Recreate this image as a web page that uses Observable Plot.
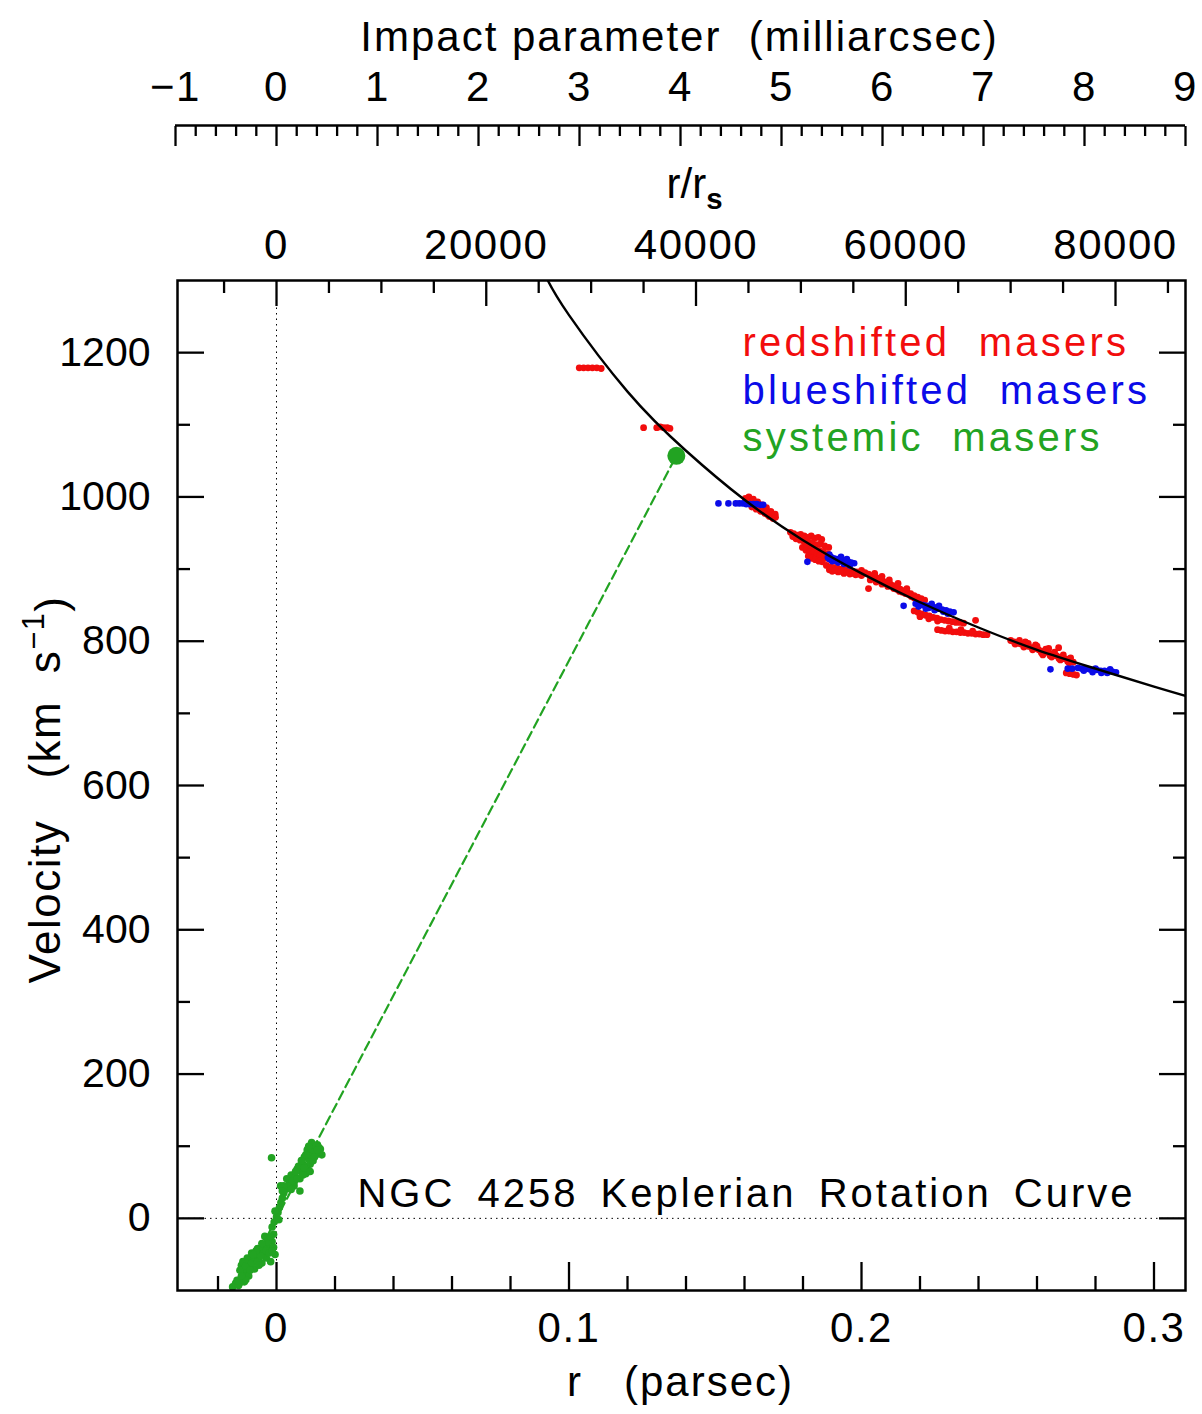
<!DOCTYPE html>
<html><head><meta charset="utf-8">
<script src="https://cdn.jsdelivr.net/npm/d3@7"></script>
<script src="https://cdn.jsdelivr.net/npm/@observablehq/plot@0.6"></script>
<style>body{margin:0;background:#fff}</style>
</head><body><div id="chart"></div>
<script>
// ---------- scales / conversions ----------
const xDomain = [-0.03385, 0.31077];   // r (parsec)
const yDomain = [-100, 1300];          // velocity (km/s)
const PC_PER_MAS = 0.03453;            // impact parameter conversion
const RS_PER_PC = 278900;              // r / r_s conversion

// ---------- ticks & labels ----------
const xMajor = [0, 0.1, 0.2, 0.3];
const xMajorLabels = ["0", "0.1", "0.2", "0.3"];
const xMinor = [-0.02, 0.02, 0.04, 0.06, 0.08, 0.12, 0.14, 0.16, 0.18, 0.22, 0.24, 0.26, 0.28];
const yMajor = [0, 200, 400, 600, 800, 1000, 1200];
const yMajorLabels = ["0", "200", "400", "600", "800", "1000", "1200"];
const yMinor = [100, 300, 500, 700, 900, 1100];
const rsMajor = [0, 20000, 40000, 60000, 80000];
const rsMajorLabels = ["0", "20000", "40000", "60000", "80000"];
const rsMinor = [-5000, 5000, 10000, 15000, 25000, 30000, 35000, 45000, 50000, 55000, 65000, 70000, 75000, 85000];
const masMajor = [-1, 0, 1, 2, 3, 4, 5, 6, 7, 8, 9];
const masMajorLabels = ["\u22121", "0", "1", "2", "3", "4", "5", "6", "7", "8", "9"];
const masMinor = d3.range(-1, 9.001, 0.2).filter(v => Math.abs(v - Math.round(v)) > 0.01);

// ---------- data ----------
const redMasers = [
  [0.1035,1179],[0.1050,1179],[0.1065,1179],[0.1080,1179],[0.1095,1179],[0.1110,1178],
  [0.1255,1096],[0.1300,1096],[0.1312,1097],[0.1324,1096],[0.1336,1096],[0.1345,1095],
  [0.1603,998],[0.1612,996],[0.1620,994],[0.1628,992],[0.1636,990],[0.1644,988],[0.1652,986],[0.1660,984],
  [0.1668,982],[0.1676,980],[0.1684,978],[0.1692,976],[0.1700,974],[0.1706,972],[0.1615,1000],[0.1630,997],
  [0.1645,993],[0.1625,986],[0.1640,983],[0.1655,980],[0.1670,977],[0.1685,973],[0.1698,970],
  [0.1608,993],[0.1622,990],[0.1638,987],[0.1652,983],[0.1666,979],[0.1680,975],[0.1694,972],[0.1660,989],
  [0.1675,985],[0.1690,980],[0.1705,976],
  [0.1757,951],[0.1768,949],[0.1780,947],[0.1792,948],[0.1804,946],[0.1816,944],[0.1828,946],[0.1840,943],
  [0.1852,944],[0.1864,941],[0.1776,942],[0.1790,940],[0.1804,938],[0.1818,936],[0.1832,937],[0.1846,934],
  [0.1860,935],[0.1874,932],[0.1888,930],
  [0.1765,945],[0.1785,943],[0.1800,942],[0.1815,940],[0.1828,930],[0.1840,928],[0.1855,926],[0.1870,924],
  [0.1885,921],[0.1798,930],[0.1812,931],[0.1826,928],
  [0.1810,926],[0.1822,924],[0.1834,922],[0.1846,921],[0.1858,919],[0.1870,917],[0.1882,915],[0.1894,913],
  [0.1906,911],[0.1818,918],[0.1830,915],[0.1842,913],[0.1854,911],[0.1866,910],
  [0.1880,905],[0.1893,903],[0.1906,902],[0.1919,901],[0.1932,900],[0.1945,899],[0.1958,898],[0.1971,897],
  [0.1984,896],[0.1997,895],[0.2010,894],[0.1900,897],[0.1920,896],[0.1940,894],[0.1960,893],[0.1980,892],[0.2000,891],
  [0.1890,899],[0.1910,898],[0.1930,897],[0.1950,896],[0.1970,894],[0.1990,893],
  [0.2000,898],[0.2012,895],[0.2024,893],[0.2036,891],[0.2048,889],[0.2060,887],[0.2072,884],[0.2084,882],
  [0.2096,880],[0.2108,877],[0.2120,875],[0.2132,872],[0.2144,870],[0.2156,868],[0.2168,866],[0.2180,863],
  [0.2192,861],[0.2204,859],[0.2216,857],[0.2030,885],[0.2050,882],[0.2070,879],[0.2090,876],[0.2110,873],
  [0.2130,869],[0.2150,866],[0.2170,862],[0.2190,858],[0.2210,854],[0.2024,873],
  [0.2040,887],[0.2060,884],[0.2080,880],[0.2100,878],[0.2120,872],[0.2140,868],[0.2160,865],[0.2180,860],
  [0.2200,857],[0.2045,894],[0.2070,890],[0.2095,885],[0.2125,880],[0.2155,873],
  [0.2180,842],[0.2193,840],[0.2206,838],[0.2219,836],[0.2232,835],[0.2245,833],[0.2258,832],[0.2271,830],
  [0.2284,829],[0.2297,828],[0.2310,827],[0.2323,826],[0.2336,826],[0.2349,825],[0.2200,834],[0.2230,831],
  [0.2260,828],[0.2390,829],
  [0.2260,816],[0.2273,815],[0.2286,814],[0.2299,814],[0.2312,813],[0.2325,813],[0.2338,812],[0.2351,812],
  [0.2364,811],[0.2377,811],[0.2390,810],[0.2403,810],[0.2416,809],[0.2429,809],[0.2300,818],[0.2340,816],[0.2380,814],
  [0.2510,801],[0.2522,799],[0.2534,797],[0.2546,796],[0.2558,794],[0.2570,793],[0.2582,791],[0.2594,790],
  [0.2606,788],[0.2618,786],[0.2630,785],[0.2642,783],[0.2654,781],[0.2666,780],[0.2678,778],[0.2690,776],
  [0.2702,775],[0.2714,773],[0.2724,771],[0.2540,801],[0.2570,797],[0.2600,793],[0.2630,789],[0.2660,785],
  [0.2690,781],[0.2715,777],[0.2620,781],[0.2650,778],[0.2680,774],[0.2710,770],[0.2674,791],
  [0.2525,796],[0.2555,792],[0.2585,788],[0.2615,784],[0.2645,780],[0.2675,776],[0.2705,772],[0.2560,799],
  [0.2595,795],[0.2640,790],
  [0.2700,756],[0.2712,755],[0.2725,754],[0.2735,753]
];
const blueMasers = [
  [0.1511,991],[0.1545,991],[0.1570,991],[0.1582,991],[0.1594,991],[0.1606,990],[0.1618,990],[0.1630,990],
  [0.1642,990],[0.1654,989],[0.1664,989],
  [0.1885,916],[0.1895,917],[0.1905,915],[0.1915,914],[0.1925,913],[0.1935,912],[0.1945,911],[0.1955,910],
  [0.1965,909],[0.1975,908],[0.1900,911],[0.1920,909],[0.1940,907],[0.1890,920],[0.1930,917],[0.1815,910],
  [0.1890,914],[0.1910,912],[0.1950,914],[0.1960,905],
  [0.2185,852],[0.2198,851],[0.2211,850],[0.2224,849],[0.2237,848],[0.2250,847],[0.2263,845],[0.2276,844],
  [0.2289,843],[0.2302,841],[0.2315,840],[0.2220,845],[0.2250,843],[0.2280,841],[0.2240,852],[0.2144,849],
  [0.2195,848],[0.2230,846],[0.2265,849],[0.2295,838],
  [0.2646,761],[0.2705,762],[0.2720,762],
  [0.2740,763],[0.2753,762],[0.2766,762],[0.2779,761],[0.2792,760],[0.2805,760],[0.2818,759],[0.2831,759],
  [0.2844,758],[0.2857,758],[0.2870,757],[0.2790,757],[0.2820,756],[0.2850,761],[0.2760,759],[0.2800,762],[0.2840,756]
];
const systemicMasers = [
  [-0.0150,-95],[-0.0140,-90],[-0.0130,-93],[-0.0125,-85],[-0.0115,-82],[-0.0105,-78],[-0.0095,-80],[-0.0135,-86],[-0.0110,-88],
  [-0.0120,-65],[-0.0110,-70],[-0.0100,-62],[-0.0090,-66],[-0.0080,-58],[-0.0075,-70],[-0.0070,-52],[-0.0060,-55],
  [-0.0055,-45],[-0.0045,-48],[-0.0040,-38],[-0.0030,-40],[-0.0025,-30],[-0.0015,-32],[-0.0010,-22],[-0.0005,-50],
  [-0.0020,-60],[-0.0035,-55],[-0.0065,-42],[-0.0085,-48],[-0.0100,-55],[-0.0050,-62],[-0.0010,-40],[-0.0040,-25],[-0.0125,-72],
  [-0.0115,-60],[-0.0105,-66],[-0.0095,-58],[-0.0085,-62],[-0.0075,-55],[-0.0065,-60],[-0.0055,-52],[-0.0045,-40],
  [-0.0035,-45],[-0.0025,-48],[-0.0030,-32],[-0.0020,-25],[-0.0015,-45],[-0.0060,-65],[-0.0090,-72],[-0.0070,-45],
  [-0.0050,-35],[-0.0080,-50],[-0.0105,-85],[-0.0120,-80],
  [-0.0015,-12],[-0.0008,-5],[0.0000,2],[0.0005,8],[0.0010,15],[0.0015,22],[0.0020,28],[-0.0005,10],[0.0008,-2],[0.0025,35],
  [0.0014,45],[0.0030,40],[0.0045,50],[0.0060,45],[0.0080,38],[0.0035,55],[0.0050,60],[0.0065,58],[0.0070,68],
  [0.0085,65],[0.0090,75],[0.0100,72],[0.0095,85],[0.0110,82],[0.0105,95],[0.0120,92],[0.0130,98],[0.0140,102],
  [0.0150,96],[0.0155,88],[0.0120,105],[0.0135,88],[0.0080,55],[0.0100,62],[0.0115,75],[0.0145,92],[0.0060,50],
  [0.0075,72],[0.0125,80],
  [0.0040,45],[0.0055,52],[0.0070,55],[0.0090,60],[0.0105,68],[0.0115,88],[0.0125,95],[0.0135,100],[0.0110,100],
  [0.0145,98],[0.0085,80],[0.0100,88],[0.0130,85],[0.0095,70],[0.0025,45],[0.0050,40],[0.0020,38],[0.0065,65],
  [0.0115,65],[0.0140,95],
  [-0.0017,84]
];
const systemicBig = [[0.1367, 1057]];
const systemicLineR = [-0.012, 0.1367];
const systemicLineV = [-93, 1057];
const keplerR = [0.0925, 0.10, 0.12, 0.14, 0.16, 0.18, 0.20, 0.22, 0.24, 0.26, 0.28, 0.30, 0.311];
const keplerV = [1302, 1252, 1146, 1064, 996, 940, 894, 854, 819, 788, 762, 737, 724];

const legendLabels = ["redshifted  masers", "blueshifted  masers", "systemic  masers"];
const RED = "#f20d0d", BLUE = "#0b0be8", GREEN = "#22a322";
const legendColors = [RED, BLUE, GREEN];

const TITLE_MAS = "Impact parameter  (milliarcsec)";
const TITLE_RS = "r/r";
const TITLE_PC = "r   (parsec)";
const TITLE_V = "Velocity   (km  s";
const TITLE_CHART = "NGC 4258 Keplerian Rotation Curve";

// ---------- derived tables ----------
const keplerCurve = keplerR.map((r, i) => ({r, v: keplerV[i]}));
const systemicLine = systemicLineR.map((r, i) => ({r, v: systemicLineV[i]}));
const rsToPc = v => v / RS_PER_PC;
const masToPc = v => v * PC_PER_MAS;
const lab = (ticks, labels) => d => labels[ticks.findIndex(t => Math.abs(t - d) < 1e-9)];

const TW = 2.3; // tick stroke width
const FS = 42;

const marks = [
  Plot.ruleX([0], {stroke: "black", strokeWidth: 1, strokeDasharray: "1.5,4"}),
  Plot.ruleY([0], {stroke: "black", strokeWidth: 1, strokeDasharray: "1.5,4"}),
  Plot.line(systemicLine, {x: "r", y: "v", stroke: GREEN, strokeWidth: 2.2, strokeDasharray: "9,5"}),
  Plot.dot(systemicMasers, {x: d => d[0], y: d => d[1], r: 3.8, fill: GREEN}),
  Plot.dot(redMasers, {x: d => d[0], y: d => d[1], r: 3.4, fill: RED}),
  Plot.dot(blueMasers, {x: d => d[0], y: d => d[1], r: 3.3, fill: BLUE}),
  Plot.dot(systemicBig, {x: d => d[0], y: d => d[1], r: 9, fill: GREEN}),
  Plot.line(keplerCurve, {x: "r", y: "v", curve: "natural", stroke: "black", strokeWidth: 2.4, clip: true}),
  Plot.frame({stroke: "black", strokeWidth: 2.5}),

  // bottom (parsec)
  Plot.axisX(xMajor, {anchor: "bottom", tickSize: -28, fill: "none", strokeWidth: TW, label: null}),
  Plot.axisX(xMinor, {anchor: "bottom", tickSize: -14, fill: "none", strokeWidth: TW, label: null}),
  Plot.axisX(xMajor, {anchor: "bottom", tickSize: 0, tickPadding: 22, fontSize: FS, tickFormat: lab(xMajor, xMajorLabels), label: null}),
  // left / right velocity
  Plot.axisY(yMajor, {anchor: "left", tickSize: -27, fill: "none", strokeWidth: TW, label: null}),
  Plot.axisY(yMinor, {anchor: "left", tickSize: -13, fill: "none", strokeWidth: TW, label: null}),
  Plot.axisY(yMajor, {anchor: "right", tickSize: -27, fill: "none", strokeWidth: TW, label: null}),
  Plot.axisY(yMinor, {anchor: "right", tickSize: -13, fill: "none", strokeWidth: TW, label: null}),
  Plot.axisY(yMajor, {anchor: "left", tickSize: 0, tickPadding: 27, fontSize: 41, tickFormat: lab(yMajor, yMajorLabels), label: null}),
  // top r/rs
  Plot.axisX(rsMajor.map(rsToPc), {anchor: "top", tickSize: -25, fill: "none", strokeWidth: TW, label: null}),
  Plot.axisX(rsMinor.map(rsToPc), {anchor: "top", tickSize: -12, fill: "none", strokeWidth: TW, label: null}),
  Plot.axisX(rsMajor.map(rsToPc), {anchor: "top", tickSize: 0, tickPadding: 22, fontSize: FS, tickFormat: lab(rsMajor.map(rsToPc), rsMajorLabels), label: null}),
  // impact parameter axis
  Plot.ruleY([yDomain[1]], {x1: () => masToPc(masMajor[0]), x2: () => masToPc(masMajor[masMajor.length - 1]), dy: -155, stroke: "black", strokeWidth: 2.5}),
  Plot.axisX(masMajor.map(masToPc), {anchor: "top", tickSize: -20, dy: -155, fill: "none", strokeWidth: TW, label: null}),
  Plot.axisX(masMinor.map(masToPc), {anchor: "top", tickSize: -10, dy: -155, fill: "none", strokeWidth: TW, label: null}),
  Plot.axisX(masMajor.map(masToPc), {anchor: "top", tickSize: 0, tickPadding: 0, dy: -180, fontSize: FS, tickFormat: lab(masMajor.map(masToPc), masMajorLabels), label: null}),

  // titles
  Plot.text([TITLE_MAS], {text: d => d, frameAnchor: "top", dx: -2, dy: -230, lineAnchor: "bottom", fontSize: FS}),
  Plot.text([TITLE_RS], {text: d => d, frameAnchor: "top", dx: 13, dy: -83, lineAnchor: "bottom", fontSize: FS}),
  Plot.text([TITLE_PC], {text: d => d, frameAnchor: "bottom", dx: -1, dy: 105, lineAnchor: "bottom", fontSize: FS}),
  Plot.text([TITLE_V], {text: d => d, frameAnchor: "left", rotate: -90, dx: -132, dy: 4, textAnchor: "middle", lineAnchor: "middle", fontSize: 44}),
  Plot.text([TITLE_CHART], {text: d => d, frameAnchor: "bottom-right", dx: -50, dy: -84, textAnchor: "end", lineAnchor: "bottom", fontSize: 40}),
  ...legendLabels.map((t, i) => Plot.text([t], {text: d => d, frameAnchor: "top-left", dx: 565, dy: [75, 123, 170][i], textAnchor: "start", lineAnchor: "bottom", fontSize: 40, fill: legendColors[i]}))
];

const svg = Plot.plot({
  width: 1202, height: 1414,
  marginLeft: 177, marginRight: 17, marginTop: 280, marginBottom: 124,
  x: {domain: xDomain},
  y: {domain: yDomain},
  style: {background: "white", color: "black", fontFamily: "'Liberation Sans', Arial, sans-serif", overflow: "visible"},
  marks
});
document.getElementById("chart").append(svg);

// ---------- typographic touches ----------
const s = d3.select(svg);
const byText = t => s.selectAll("text").filter(function () { return this.textContent === t; });
legendLabels.forEach(t => byText(t).style("letter-spacing", "3.2px"));
byText(TITLE_CHART).style("letter-spacing", "3px").style("word-spacing", "8px");
byText(TITLE_MAS).style("letter-spacing", "2px");
byText(TITLE_PC).style("letter-spacing", "2px");
s.selectAll('g[aria-label="x-axis tick label"] text').style("letter-spacing", "1.5px");
byText(TITLE_RS).each(function () {
  d3.select(this).append("tspan").attr("dy", "0.38em").attr("font-size", "0.7em").attr("font-weight", "bold").text("s");
});
byText(TITLE_V).each(function () {
  const t = d3.select(this).style("letter-spacing", "1.5px");
  t.append("tspan").attr("dy", "-0.5em").attr("font-size", "0.7em").text("\u22121");
  t.append("tspan").attr("dy", "0.5em").text(")");
});
</script>
</body></html>
